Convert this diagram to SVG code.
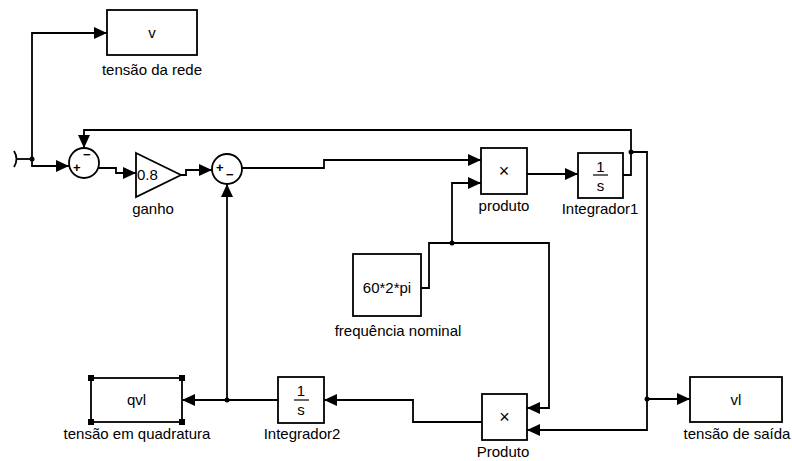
<svg xmlns="http://www.w3.org/2000/svg" width="792" height="461" viewBox="0 0 792 461">
<style>
.blk{fill:#fff;stroke:#000;stroke-width:1.8}
.w{fill:none;stroke:#000;stroke-width:1.8}
.t{font-family:"Liberation Sans",Arial,sans-serif;font-size:15px;fill:#000}
.c{text-anchor:middle}
.s{font-family:"Liberation Sans",Arial,sans-serif;font-size:13px;font-weight:bold;fill:#000}
.h{fill:#000}
</style>
<defs>
<marker id="arr" markerWidth="14" markerHeight="12" refX="13" refY="6" orient="auto" markerUnits="userSpaceOnUse">
<path d="M0,0 L13,6 L0,12 z" fill="#000"/>
</marker>
</defs>
<rect width="792" height="461" fill="#fff"/>
<g id="connectors">
<path class="w" d="M14,151 Q19,159 14,167"/>
<path class="w" d="M17,159 H32"/>
<path class="w" marker-end="url(#arr)" d="M32,159 V33 H107"/>
<path class="w" marker-end="url(#arr)" d="M32,159 V166 H69"/>
<path class="w" marker-end="url(#arr)" d="M99,168 H116 V173 H136"/>
<path class="w" marker-end="url(#arr)" d="M181,175 H186 V170 H212"/>
<path class="w" marker-end="url(#arr)" d="M242,168 H324 V160 H481"/>
<path class="w" marker-end="url(#arr)" d="M421,288 H429 V243 H549 V408 H527"/>
<path class="w" marker-end="url(#arr)" d="M452,243 V183 H481"/>
<path class="w" marker-end="url(#arr)" d="M527,174 H578"/>
<path class="w" marker-end="url(#arr)" d="M623,175 H631 V130 H84 V148"/>
<path class="w" marker-end="url(#arr)" d="M631,152 H647 V430 H527"/>
<path class="w" marker-end="url(#arr)" d="M647,399 H690"/>
<path class="w" marker-end="url(#arr)" d="M482,422 H413 V400 H324"/>
<path class="w" marker-end="url(#arr)" d="M278,400 H182"/>
<path class="w" marker-end="url(#arr)" d="M227,400 V184"/>
<circle class="h" cx="32" cy="159" r="2.5"/>
<circle class="h" cx="452" cy="243" r="2.5"/>
<circle class="h" cx="631" cy="152" r="2.5"/>
<circle class="h" cx="647" cy="399" r="2.5"/>
<circle class="h" cx="227" cy="400" r="2.5"/>
</g>
<g id="tensao_da_rede">
<rect class="blk" x="107" y="10" width="90" height="45"/>
<text class="t c" x="152" y="38">v</text>
<text class="t c" x="152" y="75">tensão da rede</text>
</g>
<g id="sum1">
<circle class="blk" cx="84" cy="163" r="15"/>
<text class="s" x="73" y="172">+</text>
<text class="s" x="83" y="159">−</text>
</g>
<g id="ganho">
<polygon class="blk" points="136,153 181,175 136,197"/>
<text class="t" x="137" y="180">0.8</text>
<text class="t c" x="153" y="214">ganho</text>
</g>
<g id="sum2">
<circle class="blk" cx="227" cy="169" r="15"/>
<text class="s" x="216" y="172">+</text>
<text class="s" x="226" y="179">−</text>
</g>
<g id="produto">
<rect class="blk" x="481" y="148" width="46" height="46"/>
<text class="t c" x="504" y="177" style="font-size:18px">×</text>
<text class="t c" x="504" y="211">produto</text>
</g>
<g id="integrador1">
<rect class="blk" x="578" y="153" width="45" height="45"/>
<text class="t c" x="600.5" y="172">1</text>
<line x1="593" y1="175" x2="608" y2="175" stroke="#000" stroke-width="1.2"/>
<text class="t c" x="600.5" y="191">s</text>
<text class="t c" x="600" y="214">Integrador1</text>
</g>
<g id="frequencia_nominal">
<rect class="blk" x="353" y="254" width="68" height="62"/>
<text class="t c" x="387" y="293">60*2*pi</text>
<text class="t c" x="398" y="336">frequência nominal</text>
</g>
<g id="tensao_em_quadratura">
<rect class="blk" x="91" y="378" width="91" height="44"/>
<rect class="h" x="88" y="375" width="6" height="6"/>
<rect class="h" x="179" y="375" width="6" height="6"/>
<rect class="h" x="88" y="419" width="6" height="6"/>
<rect class="h" x="179" y="419" width="6" height="6"/>
<text class="t c" x="136.5" y="405">qvl</text>
<text class="t c" x="137" y="439">tensão em quadratura</text>
</g>
<g id="integrador2">
<rect class="blk" x="278" y="377" width="46" height="46"/>
<text class="t c" x="301" y="396">1</text>
<line x1="294" y1="400" x2="309" y2="400" stroke="#000" stroke-width="1.2"/>
<text class="t c" x="301" y="415">s</text>
<text class="t c" x="302" y="439">Integrador2</text>
</g>
<g id="produto2">
<rect class="blk" x="482" y="394" width="45" height="46"/>
<text class="t c" x="504.5" y="423" style="font-size:18px">×</text>
<text class="t c" x="503" y="457">Produto</text>
</g>
<g id="tensao_de_saida">
<rect class="blk" x="690" y="377" width="92" height="45"/>
<text class="t c" x="736" y="405">vl</text>
<text class="t c" x="737" y="439">tensão de saída</text>
</g>
</svg>
